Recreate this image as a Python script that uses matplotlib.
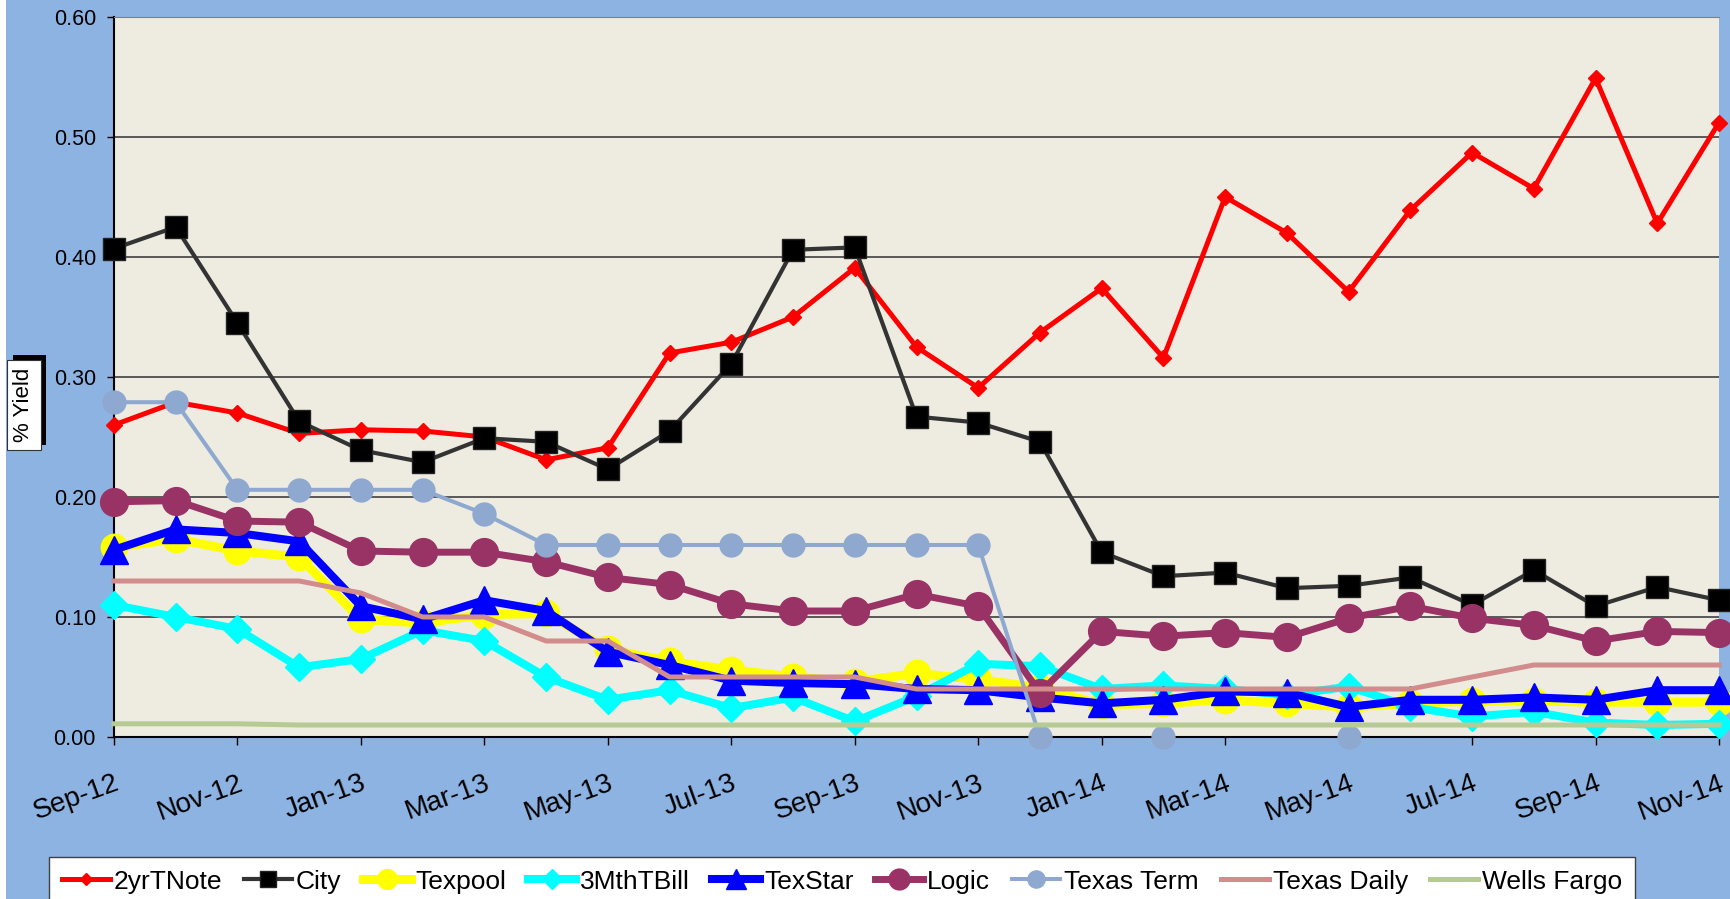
import numpy as np
import matplotlib
matplotlib.use("Agg")
import matplotlib.pyplot as plt
from matplotlib.patches import Rectangle

plt.rcParams['font.family'] = ['Liberation Sans', 'DejaVu Sans']

months = ["Sep-12", "Oct-12", "Nov-12", "Dec-12", "Jan-13", "Feb-13", "Mar-13",
          "Apr-13", "May-13", "Jun-13", "Jul-13", "Aug-13", "Sep-13", "Oct-13",
          "Nov-13", "Dec-13", "Jan-14", "Feb-14", "Mar-14", "Apr-14", "May-14",
          "Jun-14", "Jul-14", "Aug-14", "Sep-14", "Oct-14", "Nov-14"]

two_yr_note = [0.260, 0.279, 0.270, 0.253, 0.256, 0.255, 0.250, 0.231, 0.241,
               0.320, 0.329, 0.350, 0.391, 0.325, 0.291, 0.337, 0.374, 0.316,
               0.450, 0.420, 0.371, 0.439, 0.487, 0.457, 0.549, 0.428, 0.512]
city = [0.407, 0.425, 0.345, 0.263, 0.239, 0.229, 0.249, 0.246, 0.223,
        0.255, 0.311, 0.406, 0.408, 0.267, 0.262, 0.246, 0.154, 0.134,
        0.137, 0.124, 0.126, 0.133, 0.110, 0.139, 0.109, 0.125, 0.114]
texpool = [0.158, 0.165, 0.155, 0.150, 0.098, 0.095, 0.102, 0.103, 0.073,
           0.063, 0.056, 0.050, 0.046, 0.053, 0.048, 0.041, 0.027, 0.028,
           0.031, 0.028, 0.025, 0.028, 0.030, 0.030, 0.029, 0.029, 0.029]
tbill_3m = [0.110, 0.100, 0.090, 0.058, 0.065, 0.089, 0.080, 0.050, 0.031,
            0.039, 0.024, 0.033, 0.013, 0.034, 0.061, 0.059, 0.040, 0.043,
            0.040, 0.035, 0.042, 0.025, 0.017, 0.021, 0.012, 0.010, 0.011]
texstar = [0.156, 0.173, 0.170, 0.163, 0.109, 0.098, 0.114, 0.105, 0.071,
           0.060, 0.047, 0.045, 0.044, 0.040, 0.039, 0.033, 0.028, 0.031,
           0.038, 0.037, 0.025, 0.031, 0.031, 0.033, 0.031, 0.039, 0.039]
logic = [0.196, 0.197, 0.180, 0.179, 0.155, 0.154, 0.154, 0.146, 0.133,
         0.127, 0.111, 0.105, 0.105, 0.119, 0.109, 0.037, 0.088, 0.084,
         0.087, 0.083, 0.099, 0.109, 0.099, 0.093, 0.080, 0.088, 0.087]
nan = np.nan
texas_term = [0.279, 0.279, 0.206, 0.206, 0.206, 0.206, 0.186, 0.160, 0.160,
              0.160, 0.160, 0.160, 0.160, 0.160, 0.160, 0.0, nan, 0.0,
              nan, nan, 0.0, nan, nan, nan, nan, nan, nan]
texas_daily = [0.130, 0.130, 0.130, 0.130, 0.120, 0.100, 0.100, 0.080, 0.080,
               0.050, 0.050, 0.050, 0.050, 0.040, 0.040, 0.040, 0.040, 0.040,
               0.040, 0.040, 0.040, 0.040, 0.050, 0.060, 0.060, 0.060, 0.060]
wells_fargo = [0.011, 0.011, 0.011, 0.010, 0.010, 0.010, 0.010, 0.010, 0.010,
               0.010, 0.010, 0.010, 0.010, 0.010, 0.010, 0.010, 0.010, 0.010,
               0.010, 0.010, 0.010, 0.010, 0.010, 0.010, 0.010, 0.010, 0.010]

W, H = 1731, 899
fig = plt.figure(figsize=(W / 100, H / 100), dpi=100)
fig.patch.set_facecolor('#8DB3E2')
fig.patches.append(Rectangle((0, 0), 6 / W, 1, transform=fig.transFigure,
                             facecolor='white', edgecolor='none', zorder=-5))

ax = fig.add_axes([114 / W, 1 - 737 / H, (1719 - 114) / W, (737 - 17) / H])
ax.set_facecolor('#EEECE1')

x = np.arange(len(months))
series = [
    ("2yrTNote", two_yr_note, dict(color='#FF0000', lw=3.6, marker='D', ms=8.5,
                                   mfc='#FF0000', mec='#FF0000')),
    ("City", city, dict(color='#333333', lw=3.0, marker='s', ms=16,
                        mfc='black', mec='#222222')),
    ("Texpool", texpool, dict(color='#FFFF00', lw=6.5, marker='o', ms=19,
                              mfc='#FFFF00', mec='#FFFF00')),
    ("3MthTBill", tbill_3m, dict(color='#00FFFF', lw=5.8, marker='D', ms=14,
                                 mfc='#00FFFF', mec='#00FFFF')),
    ("TexStar", texstar, dict(color='#0000FF', lw=5.8, marker='^', ms=20,
                              mfc='#0000FF', mec='#0000FF')),
    ("Logic", logic, dict(color='#993366', lw=5.0, marker='o', ms=20,
                          mfc='#993366', mec='#993366')),
    ("Texas Term", texas_term, dict(color='#8EA8D0', lw=2.9, marker='o', ms=16.5,
                                    mfc='#8EA8D0', mec='#8EA8D0')),
    ("Texas Daily", texas_daily, dict(color='#D28C8C', lw=3.6)),
    ("Wells Fargo", wells_fargo, dict(color='#B6CB93', lw=3.6)),
]

handles = []
for i, (name, vals, style) in enumerate(series):
    ln, = ax.plot(x, vals, label=name, clip_on=False, zorder=3 + i, **style)
    handles.append(ln)

ax.set_xlim(0, len(months) - 1)
ax.set_ylim(0, 0.6)
ax.set_yticks(np.arange(0, 0.61, 0.1))
ax.set_yticklabels([f"{v:.2f}" for v in np.arange(0, 0.61, 0.1)], fontsize=15.5)
ax.set_xticks(x[::2])
ax.set_xticklabels(months[::2], rotation=20, ha='right', rotation_mode='anchor',
                   fontsize=20)
ax.tick_params(axis='y', direction='out', length=5, width=1, pad=8, colors='black')
ax.tick_params(axis='x', direction='out', length=6, width=1, pad=18, colors='black')
ax.grid(axis='y', color='#404040', lw=1.2, zorder=1)
ax.set_axisbelow(True)
ax.spines['right'].set_visible(False)
ax.spines['top'].set_color('#808080')
ax.spines['left'].set_color('black')
ax.spines['bottom'].set_color('black')
ax.spines['left'].set_linewidth(1.5)
ax.spines['bottom'].set_linewidth(1.5)

# y axis title in a framed box with shadow
fig.patches.append(Rectangle((13 / W, 1 - 445 / H), 33 / W, 90 / H,
                             transform=fig.transFigure, facecolor='black',
                             edgecolor='none', zorder=5))
fig.patches.append(Rectangle((7 / W, 1 - 450 / H), 34 / W, 90 / H,
                             transform=fig.transFigure, facecolor='white',
                             edgecolor='#333333', lw=0.8, zorder=6))
fig.text(24 / W, 1 - 405 / H, "% Yield", rotation=90, ha='center', va='center',
         fontsize=16, zorder=7)

leg = fig.legend(handles=handles, loc='upper left',
                 bbox_to_anchor=(49 / W, 1 - 857 / H), ncol=9, fontsize=19,
                 frameon=True, fancybox=False, edgecolor='#404040',
                 facecolor='white', framealpha=1, handlelength=1.82,
                 handletextpad=0.15, columnspacing=0.83, borderpad=0.48,
                 borderaxespad=0, markerscale=0.75)
leg.get_frame().set_linewidth(1.0)

fig.savefig("out.png", dpi=100, facecolor=fig.get_facecolor())
